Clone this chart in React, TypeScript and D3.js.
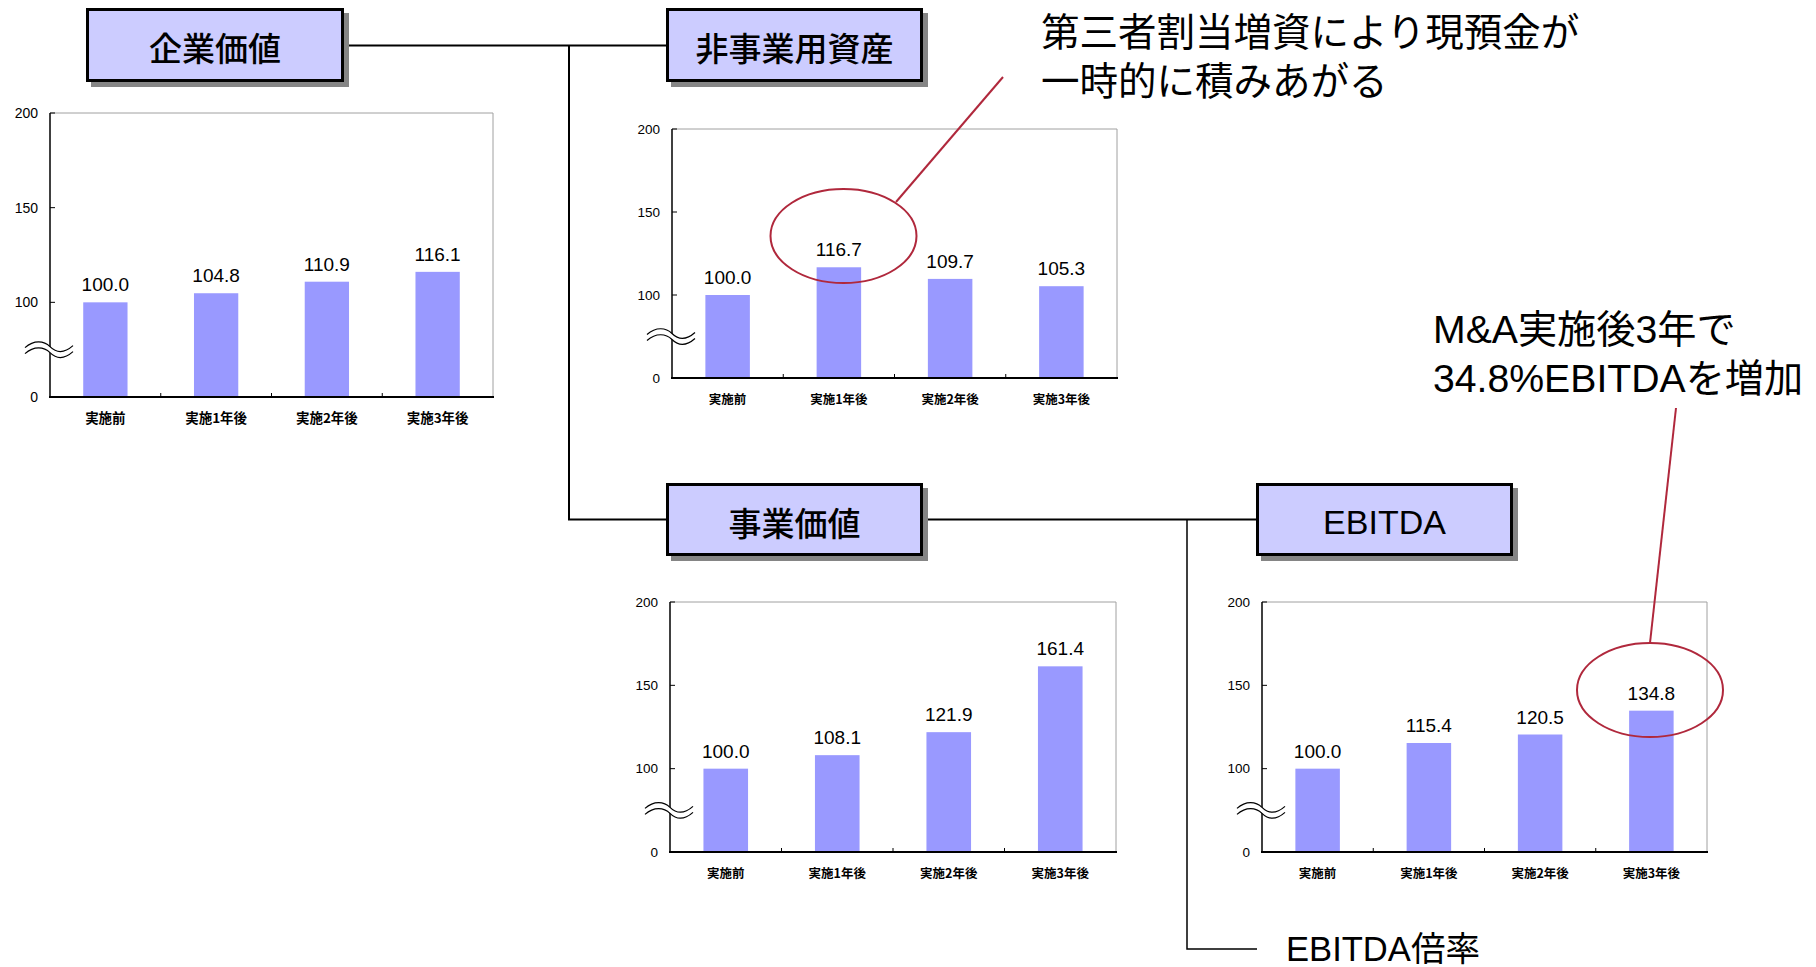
import React from "react";
import * as d3 from "d3";

const categories = ["実施前", "実施1年後", "実施2年後", "実施3年後"];
const enterpriseValue = [100.0, 104.8, 110.9, 116.1];
const nonOperatingAssets = [100.0, 116.7, 109.7, 105.3];
const businessValue = [100.0, 108.1, 121.9, 161.4];
const ebitdaValues = [100.0, 115.4, 120.5, 134.8];
const yTicks = [0, 100, 150, 200];
const yBreakDomain = [0, 100, 200];
const breakAt = 50;

const titles = ["企業価値", "非事業用資産", "事業価値", "EBITDA"];
const note1 = ["第三者割当増資により現預金が", "一時的に積みあがる"];
const note2 = ["M&A実施後3年で", "34.8%EBITDAを増加"];
const multipleLabel = "EBITDA倍率";

const LATIN = "'Liberation Sans', Arial, 'Noto Sans CJK JP', sans-serif";
const CJK = "'Noto Sans CJK JP', 'Liberation Sans', sans-serif";
const BAR = "#9999FF";
const BOX = "#CCCCFF";
const RED = "#B0283C";

type ChartProps = {
  values: number[];
  left: number;
  right: number;
  top: number;
  bottom: number;
  tickFont: number;
  catFont: number;
  valFont: number;
};

function BarChart({ values, left, right, top, bottom, tickFont, catFont, valFont }: ChartProps) {
  const h = bottom - top;
  const y = d3
    .scaleLinear()
    .domain(yBreakDomain)
    .range([bottom, bottom - h / 3, top]);
  const x = d3
    .scaleBand<string>()
    .domain(categories)
    .range([left, right])
    .paddingInner(0.6)
    .paddingOuter(0.3);
  const step = x.step();
  const boundaries = categories.slice(1).map((c) => (x(c) as number) - step * 0.3);
  const by = y(breakAt);
  const wave = (dy: number) =>
    `M${left - 25},${by + dy + 1} C${left - 16},${by + dy - 7} ${left - 6},${by + dy - 6} ${left},${by + dy} S${left + 14},${by + dy + 7} ${left + 23},${by + dy - 1}`;
  const waveFill =
    `M${left - 25},${by - 2} C${left - 16},${by - 10} ${left - 6},${by - 9} ${left},${by - 3} S${left + 14},${by + 4} ${left + 23},${by - 4}` +
    ` L${left + 23},${by + 2} C${left + 14},${by + 10} ${left + 6},${by + 9} ${left},${by + 3} S${left - 16},${by - 4} ${left - 25},${by + 4} Z`;
  return (
    <g>
      <line x1={left} y1={top} x2={right} y2={top} stroke="#A0A0A0" strokeWidth={1} />
      <line x1={right} y1={top} x2={right} y2={bottom} stroke="#A0A0A0" strokeWidth={1} />
      {values.map((v, i) => (
        <rect
          key={i}
          x={x(categories[i])}
          y={y(v)}
          width={x.bandwidth()}
          height={bottom - y(v)}
          fill={BAR}
        />
      ))}
      {values.map((v, i) => (
        <text
          key={"v" + i}
          x={(x(categories[i]) as number) + x.bandwidth() / 2}
          y={y(v) - 11}
          textAnchor="middle"
          fontFamily={LATIN}
          fontSize={valFont}
          fill="#000"
        >
          {v.toFixed(1)}
        </text>
      ))}
      <line x1={left} y1={top} x2={left} y2={bottom} stroke="#000" strokeWidth={1.5} />
      <line x1={left - 1} y1={bottom} x2={right + 1} y2={bottom} stroke="#000" strokeWidth={2} />
      {yTicks.map((t) => (
        <g key={"t" + t}>
          <line x1={left} y1={y(t)} x2={left + 5} y2={y(t)} stroke="#000" strokeWidth={1} />
          <text
            x={left - 12}
            y={y(t)}
            textAnchor="end"
            dominantBaseline="central"
            fontFamily={LATIN}
            fontSize={tickFont}
            fill="#000"
          >
            {t}
          </text>
        </g>
      ))}
      {boundaries.map((b, i) => (
        <line key={"b" + i} x1={b} y1={bottom} x2={b} y2={bottom - 4} stroke="#000" strokeWidth={1} />
      ))}
      {categories.map((c) => (
        <text
          key={c}
          x={(x(c) as number) + x.bandwidth() / 2}
          y={bottom + 20}
          textAnchor="middle"
          dominantBaseline="central"
          fontFamily={CJK}
          fontWeight={700}
          fontSize={catFont}
          fill="#000"
        >
          {c}
        </text>
      ))}
      <path d={waveFill} fill="#fff" stroke="none" />
      <path d={wave(-3)} fill="none" stroke="#000" strokeWidth={1.2} />
      <path d={wave(3)} fill="none" stroke="#000" strokeWidth={1.2} />
    </g>
  );
}

function TitleBox({ x0, y0, x1, y1, label, latin }: { x0: number; y0: number; x1: number; y1: number; label: string; latin?: boolean }) {
  return (
    <g>
      <rect x={x0 + 5} y={y0 + 5} width={x1 - x0} height={y1 - y0} fill="#858585" />
      <rect x={x0 + 1.5} y={y0 + 1.5} width={x1 - x0 - 3} height={y1 - y0 - 3} fill={BOX} stroke="#000" strokeWidth={3} />
      <text
        x={(x0 + x1) / 2}
        y={(y0 + y1) / 2 + 2}
        textAnchor="middle"
        dominantBaseline="central"
        fontFamily={latin ? LATIN : CJK}
        fontWeight={latin ? 400 : 500}
        fontSize={latin ? 34 : 33}
        fill="#000"
      >
        {label}
      </text>
    </g>
  );
}

export default function App() {
  return (
    <svg
      width={1816}
      height={967}
      style={{ position: "absolute", left: 0, top: 0, background: "#fff" }}
    >
      <rect x={0} y={0} width={1816} height={967} fill="#fff" />
      {/* connector lines */}
      <path d="M344,45.5 H666" stroke="#000" strokeWidth={2} fill="none" />
      <path d="M569,45.5 V519.5 H666" stroke="#000" strokeWidth={2} fill="none" />
      <path d="M923,519.5 H1256" stroke="#000" strokeWidth={2} fill="none" />
      <path d="M1187,519.5 V949 H1257" stroke="#000" strokeWidth={1.5} fill="none" />

      <TitleBox x0={86} y0={8} x1={344} y1={82} label={titles[0]} />
      <TitleBox x0={666} y0={8} x1={923} y1={82} label={titles[1]} />
      <TitleBox x0={666} y0={483} x1={923} y1={556} label={titles[2]} />
      <TitleBox x0={1256} y0={483} x1={1513} y1={556} label={titles[3]} latin />

      <BarChart values={enterpriseValue} left={50} right={493} top={113} bottom={397} tickFont={14} catFont={13.5} valFont={19} />
      <BarChart values={nonOperatingAssets} left={672} right={1117} top={129} bottom={378} tickFont={13.5} catFont={12.5} valFont={19} />
      <BarChart values={businessValue} left={670} right={1116} top={602} bottom={852} tickFont={13.5} catFont={12.5} valFont={19} />
      <BarChart values={ebitdaValues} left={1262} right={1707} top={602} bottom={852} tickFont={13.5} catFont={12.5} valFont={19} />

      {/* annotations */}
      <ellipse cx={843.5} cy={236} rx={73} ry={47} fill="none" stroke={RED} strokeWidth={2} />
      <line x1={896} y1={202} x2={1003} y2={77} stroke={RED} strokeWidth={2} />
      <ellipse cx={1650} cy={690} rx={73} ry={47} fill="none" stroke={RED} strokeWidth={2} />
      <line x1={1650} y1={643} x2={1676} y2={408} stroke={RED} strokeWidth={2} />

      <text fontFamily={LATIN} fontSize={38.5} fill="#000">
        <tspan x={1041} y={46}>{note1[0]}</tspan>
        <tspan x={1041} y={95}>{note1[1]}</tspan>
      </text>
      <text fontFamily={LATIN} fontSize={39.2} fill="#000">
        <tspan x={1433} y={343}>{note2[0]}</tspan>
        <tspan x={1433} y={392}>{note2[1]}</tspan>
      </text>
      <text x={1286} y={961} fontFamily={LATIN} fontSize={34.6} fill="#000">
        {multipleLabel}
      </text>
    </svg>
  );
}
